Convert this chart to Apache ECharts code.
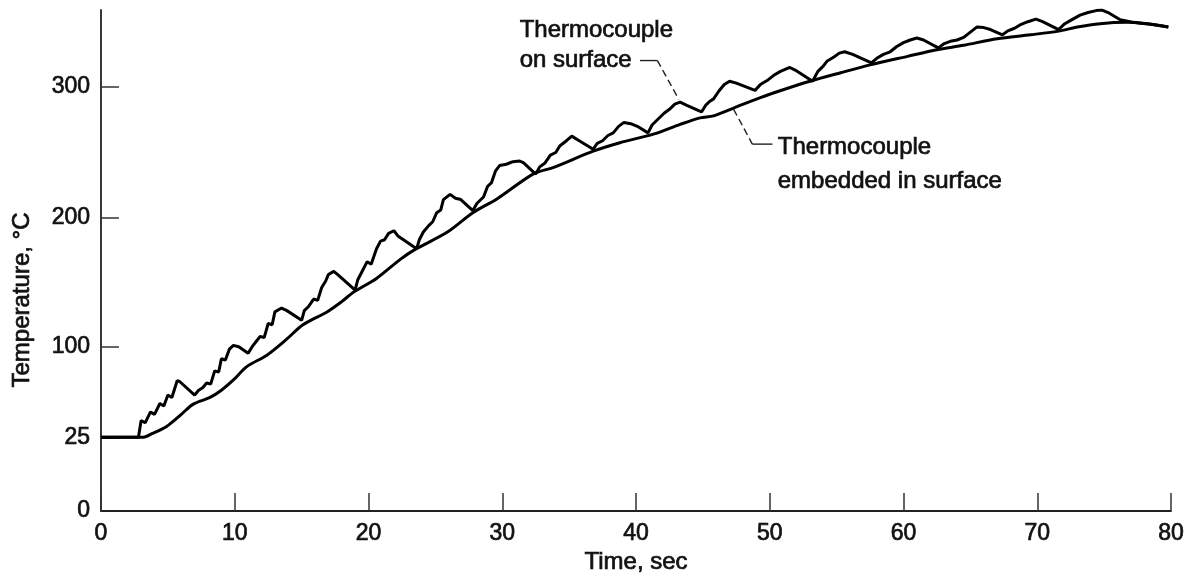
<!DOCTYPE html>
<html>
<head>
<meta charset="utf-8">
<title>Thermocouple temperature vs time</title>
<script src="https://cdn.jsdelivr.net/npm/echarts@6/dist/echarts.min.js"></script>
<style>
    html, body { margin: 0; padding: 0; background: #fff; }
    #main { width: 1193px; height: 580px; }
</style>
</head>
<body>
<div id="main"></div>
<script>
// 表面热电偶（锯齿状曲线）
var surfaceTime = [0, 2.8, 3.0, 3.3, 3.7, 4.0, 4.4, 4.7, 5.0, 5.3, 5.7, 5.9, 7.0,
    7.3, 7.6, 7.9, 8.2, 8.5, 8.8, 9.0, 9.3, 9.6, 9.9, 10.3, 11.0,
    11.3, 11.6, 11.9, 12.2, 12.5, 12.8, 13.0, 13.5, 13.9, 15.0,
    15.2, 15.5, 15.9, 16.2, 16.5, 16.8, 17.0, 17.4, 17.7, 19.0,
    19.2, 19.5, 19.9, 20.2, 20.6, 20.9, 21.2, 21.5, 21.9, 22.2, 23.6,
    23.8, 24.1, 24.5, 24.8, 25.1, 25.4, 25.6, 26.1, 26.5, 26.9, 27.8,
    28.1, 28.6, 28.9, 29.2, 29.5, 29.8, 30.3, 30.8, 31.3, 31.6, 32.5,
    32.8, 33.2, 33.6, 34.0, 34.3, 34.8, 35.2, 35.6, 36.8,
    37.1, 37.5, 37.9, 38.3, 38.7, 39.1, 39.6, 40.1, 40.9,
    41.2, 41.6, 42.1, 42.5, 42.9, 43.3, 43.8, 44.9,
    45.2, 45.5, 45.8, 46.2, 46.6, 47.0, 47.5, 48.9,
    49.3, 49.8, 50.3, 50.8, 51.5, 51.9, 53.2,
    53.6, 54.0, 54.3, 54.8, 55.2, 55.6, 56.2, 57.6,
    58.0, 58.5, 59.0, 59.5, 60.0, 60.5, 61.0, 61.5, 62.6,
    63.0, 63.5, 64.0, 64.5, 65.0, 65.5, 66.0, 66.5, 67.4,
    67.8, 68.3, 68.8, 69.3, 69.9, 70.4, 71.6,
    72.0, 72.5, 73.2, 73.8, 74.4, 74.8, 75.3, 76.2, 77.2, 78.5, 79.8];
var surfaceTemp = [25, 25, 39, 37, 46, 44, 53, 51, 60, 58, 72, 71, 60,
    64, 66, 70, 69, 80, 79, 90, 89, 98, 101, 100, 94.5,
    100, 104, 108, 107, 118, 117, 127, 130, 128, 120.5,
    128, 131, 137, 136, 146, 151, 156, 158.5, 156, 144,
    152, 158, 166, 164, 176, 182, 183, 188, 190, 186, 176,
    183, 189, 194, 197, 204, 206, 214, 218, 215, 214, 205.5,
    211, 216, 224, 227, 236, 240, 241, 243, 243.5, 242, 233.5,
    239, 242, 248, 250, 255, 259, 262.5, 260, 252.5,
    257, 259, 263, 265, 270, 273, 272, 270, 265,
    271, 275, 280, 283, 287, 288.5, 286, 281,
    286, 289, 291, 297, 302, 304.5, 303, 297.5,
    302, 305, 309, 312, 315, 313, 304.5,
    312, 316, 320, 323, 326, 327, 325, 318.5,
    322, 325, 327, 331, 334, 336, 337.5, 336, 330,
    333, 335, 336, 338, 342, 346, 345.5, 344, 340,
    343, 345, 348, 350, 352, 350, 344,
    348, 351, 355, 357, 358.5, 359, 357, 351.5, 349.5, 348, 346];

// 埋入式热电偶（平滑曲线）
var embeddedTime = [0, 3.1, 3.8, 4.9, 6.0, 6.9, 8.15, 9.0, 9.9, 10.9, 12.4, 13.9, 15.1, 16.9,
    18.0, 18.9, 20.6, 22.4, 23.4, 25.9, 27.8, 29.6, 32.3, 33.8, 36.8, 38.8, 41.3, 43.3,
    44.8, 45.8, 47.3, 49.3, 51, 53, 55.3, 57.5, 60.3, 62.5, 64.5, 67, 69.5, 71.7, 73,
    74.7, 76.7, 79.8];
var embeddedTemp = [25, 25, 28, 34, 44, 52.5, 58, 64, 72.5, 83.5, 93, 106, 117, 127,
    135, 142.5, 153, 168, 175, 189, 204, 214.5, 233.5, 238.5, 251, 257.5, 264, 271.5,
    276.5, 278, 284, 292, 298, 304.5, 311, 317, 323.5, 328.5, 332, 337, 340, 343, 346,
    348.5, 349.5, 346];

// 坐标轴刻度
var xTicks = [0, 10, 20, 30, 40, 50, 60, 70, 80];
var yTicks = [0, 25, 100, 200, 300];

// 纵轴是分段刻度（0-25 段被拉长）
var tempKnots = [0, 25, 100, 200, 300, 400];
var axisKnots = [0, 74, 165, 294.3, 425.6, 556.9];

function toAxis(v) {
    for (var i = 1; i < tempKnots.length; i++) {
        if (v <= tempKnots[i] || i === tempKnots.length - 1) {
            var f = (v - tempKnots[i - 1]) / (tempKnots[i] - tempKnots[i - 1]);
            return axisKnots[i - 1] + f * (axisKnots[i] - axisKnots[i - 1]);
        }
    }
}

function pairs(ts, vs) {
    return ts.map(function (t, i) { return [t, toAxis(vs[i])]; });
}

var FONT = '"Liberation Sans", Arial, Helvetica, sans-serif';
var INK = '#111';
var BOLDEN = { textBorderColor: INK, textBorderWidth: 0.7 };

var chart = echarts.init(document.getElementById('main'), null, { renderer: 'canvas' });

var option = {
    backgroundColor: '#fff',
    animation: false,
    grid: {
        left: 101,
        right: 22,
        top: 10,
        bottom: 67,
        containLabel: false
    },
    xAxis: {
        type: 'value',
        min: 0,
        max: 80,
        interval: 10,
        name: 'Time, sec',
        nameLocation: 'middle',
        nameGap: 37,
        nameTextStyle: Object.assign({ fontFamily: FONT, fontSize: 24, color: INK }, BOLDEN),
        axisLine: { lineStyle: { color: '#222', width: 1.8 } },
        axisTick: { inside: true, length: 18, lineStyle: { color: '#333', width: 1.5 } },
        axisLabel: Object.assign({ fontFamily: FONT, fontSize: 23, color: INK, margin: 11 }, BOLDEN),
        splitLine: { show: false }
    },
    yAxis: {
        type: 'value',
        min: 0,
        max: 503,
        axisLine: { show: true, lineStyle: { color: '#222', width: 1.8 } },
        axisTick: {
            show: true,
            inside: true,
            length: 18,
            customValues: yTicks.slice(1).map(toAxis),
            lineStyle: { color: '#333', width: 1.5 }
        },
        axisLabel: Object.assign({
            fontFamily: FONT,
            fontSize: 23,
            color: INK,
            margin: 11,
            customValues: yTicks.map(toAxis),
            formatter: function (v) {
                for (var i = 0; i < yTicks.length; i++) {
                    if (Math.abs(toAxis(yTicks[i]) - v) < 0.5) return String(yTicks[i]);
                }
                return '';
            }
        }, BOLDEN),
        splitLine: { show: false }
    },
    series: [
        {
            name: 'Thermocouple on surface',
            type: 'line',
            data: pairs(surfaceTime, surfaceTemp),
            showSymbol: false,
            lineStyle: { color: '#000', width: 3 },
            z: 3
        },
        {
            name: 'Thermocouple embedded in surface',
            type: 'line',
            data: pairs(embeddedTime, embeddedTemp),
            showSymbol: false,
            smooth: 0.3,
            lineStyle: { color: '#000', width: 3 },
            z: 3
        }
    ]
};
chart.setOption(option);

// 注释文字与引线（用数据坐标定位）
function px(t, temp) {
    return chart.convertToPixel({ gridIndex: 0 }, [t, toAxis(temp)]);
}

var s1 = px(31.3, 343.2), s2 = px(31.3, 320.3);
var sa = px(40.3, 320.3), sb = px(41.6, 320.3), sc = px(43.2, 290.6);
var e0 = px(47.3, 283), e1 = px(48.7, 256.4), e2 = px(50.2, 256.4);
var t1 = px(50.6, 254), t2 = px(50.6, 228.2);

function label(p, text) {
    return {
        type: 'text',
        x: p[0],
        y: p[1],
        style: {
            text: text,
            font: '24px ' + FONT,
            fill: INK,
            stroke: INK,
            lineWidth: 0.7,
            verticalAlign: 'middle',
            align: 'left'
        }
    };
}

chart.setOption({
    graphic: [
        label(s1, 'Thermocouple'),
        label(s2, 'on surface'),
        label(t1, 'Thermocouple'),
        label(t2, 'embedded in surface'),
        {
            type: 'line',
            shape: { x1: sa[0], y1: sa[1], x2: sb[0], y2: sb[1] },
            style: { stroke: '#222', lineWidth: 1.4 }
        },
        {
            type: 'line',
            shape: { x1: sb[0], y1: sb[1], x2: sc[0], y2: sc[1] },
            style: { stroke: '#222', lineWidth: 1.4, lineDash: [7, 4] }
        },
        {
            type: 'line',
            shape: { x1: e0[0], y1: e0[1], x2: e1[0], y2: e1[1] },
            style: { stroke: '#222', lineWidth: 1.4, lineDash: [7, 4] }
        },
        {
            type: 'line',
            shape: { x1: e1[0], y1: e1[1], x2: e2[0], y2: e2[1] },
            style: { stroke: '#222', lineWidth: 1.4 }
        },
        {
            type: 'text',
            x: 22,
            y: 300,
            rotation: Math.PI / 2,
            style: {
                text: 'Temperature, \u00B0C',
                font: '24px ' + FONT,
                fill: INK,
                stroke: INK,
                lineWidth: 0.7,
                align: 'center',
                verticalAlign: 'middle'
            }
        }
    ]
});
</script>
</body>
</html>
